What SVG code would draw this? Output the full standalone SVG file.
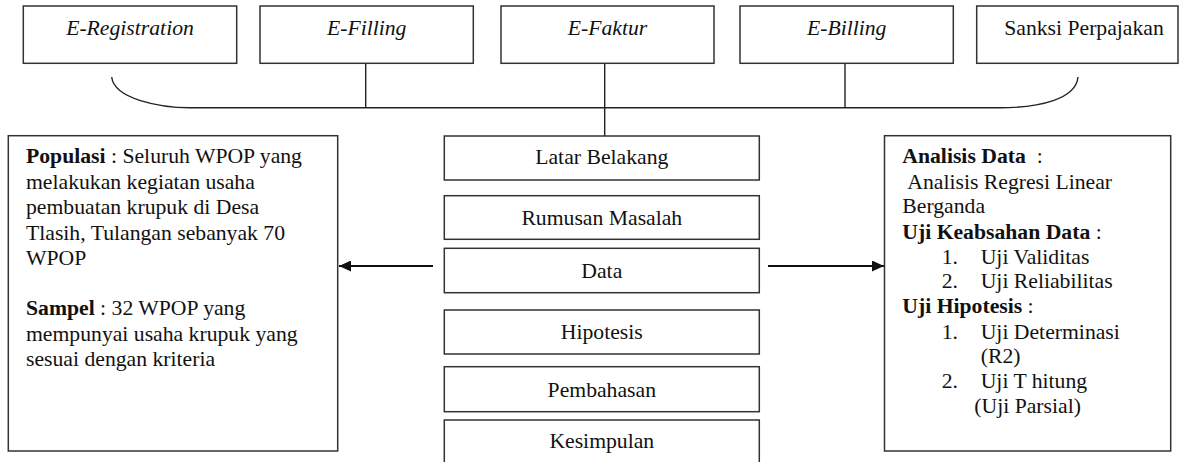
<svg xmlns="http://www.w3.org/2000/svg" width="1181" height="462" viewBox="0 0 1181 462">
<style>
.box{fill:#fff;stroke:#333;stroke-width:1.5}
.ln{fill:none;stroke:#222;stroke-width:1.4}
.ar{fill:none;stroke:#111;stroke-width:1.8}
text{font-family:"Liberation Serif","Times New Roman",serif;font-size:21.7px;fill:#111}
.c{text-anchor:middle}
.i{font-style:italic}
.b{font-weight:bold}
</style>
<defs>
<marker id="ah" viewBox="0 0 12 11" refX="12" refY="5.5" markerWidth="12" markerHeight="11" markerUnits="userSpaceOnUse" orient="auto">
<path d="M0,0 L12,5.5 L0,11 z" fill="#111"/>
</marker>
</defs>
<rect width="1181" height="462" fill="#fff"/>
<g id="connectors">
<path class="ln" d="M111.7,77 C114,99 160,107.7 190,107.7 L1000,107.7 C1040,107.7 1076,99 1078,77"/>
<line class="ln" x1="365.7" y1="63.3" x2="365.7" y2="107.7"/>
<line class="ln" x1="845" y1="63.3" x2="845" y2="107.7"/>
<line class="ln" x1="604.7" y1="63.3" x2="604.7" y2="136"/>
<line class="ar" x1="433" y1="266" x2="339" y2="266" marker-end="url(#ah)"/>
<line class="ar" x1="768" y1="266" x2="884" y2="266" marker-end="url(#ah)"/>
</g>
<g id="e-registration"><rect class="box" x="23.3" y="6" width="213.4" height="57.3"/><text class="c i" x="130" y="35">E-Registration</text></g>
<g id="e-filling"><rect class="box" x="260" y="6" width="213.3" height="57.3"/><text class="c i" x="366.7" y="35">E-Filling</text></g>
<g id="e-faktur"><rect class="box" x="501" y="6" width="213" height="57.3"/><text class="c i" x="607.5" y="35">E-Faktur</text></g>
<g id="e-billing"><rect class="box" x="740" y="6" width="213.3" height="57.3"/><text class="c i" x="846.7" y="35">E-Billing</text></g>
<g id="sanksi"><rect class="box" x="976.7" y="6" width="201.3" height="57.3"/><text class="c" x="1084" y="35">Sanksi Perpajakan</text></g>
<g id="latar"><rect class="box" x="444.3" y="136" width="315" height="44"/><text class="c" x="601.8" y="164.3">Latar Belakang</text></g>
<g id="rumusan"><rect class="box" x="444.3" y="195.7" width="315" height="43.6"/><text class="c" x="601.8" y="225">Rumusan Masalah</text></g>
<g id="data"><rect class="box" x="444.3" y="248.3" width="315" height="44.4"/><text class="c" x="601.8" y="277.7">Data</text></g>
<g id="hipotesis"><rect class="box" x="444.3" y="310" width="315" height="44"/><text class="c" x="601.8" y="339.3">Hipotesis</text></g>
<g id="pembahasan"><rect class="box" x="444.3" y="366.7" width="315" height="45"/><text class="c" x="601.8" y="396.7">Pembahasan</text></g>
<g id="kesimpulan"><rect class="box" x="444.3" y="420" width="315" height="60"/><text class="c" x="601.8" y="448.3">Kesimpulan</text></g>
<g id="populasi">
<rect class="box" x="8.3" y="135.7" width="329.4" height="315.3"/>
<text x="26" y="163"><tspan class="b">Populasi</tspan> : Seluruh WPOP yang</text>
<text x="26" y="188.5">melakukan kegiatan usaha</text>
<text x="26" y="214">pembuatan krupuk di Desa</text>
<text x="26" y="239.5">Tlasih, Tulangan sebanyak 70</text>
<text x="26" y="265">WPOP</text>
<text x="26" y="315"><tspan class="b">Sampel</tspan> : 32 WPOP yang</text>
<text x="26" y="340.5">mempunyai usaha krupuk yang</text>
<text x="26" y="366">sesuai dengan kriteria</text>
</g>
<g id="analisis">
<rect class="box" x="884.5" y="135.7" width="286.2" height="315.3"/>
<text x="902.3" y="163.3" xml:space="preserve"><tspan class="b">Analisis Data</tspan>  :</text>
<text x="907.3" y="189.3">Analisis Regresi Linear</text>
<text x="902.3" y="213.3">Berganda</text>
<text x="902.3" y="239.3"><tspan class="b">Uji Keabsahan Data</tspan> :</text>
<text x="941.7" y="264">1.</text><text x="980.7" y="264">Uji Validitas</text>
<text x="941.7" y="288.3">2.</text><text x="980.7" y="288.3">Uji Reliabilitas</text>
<text x="902.3" y="313.3"><tspan class="b">Uji Hipotesis</tspan> :</text>
<text x="941.7" y="339.3">1.</text><text x="980.7" y="339.3">Uji Determinasi</text>
<text x="980.7" y="363.3">(R2)</text>
<text x="941.7" y="388.3">2.</text><text x="980.7" y="388.3">Uji T hitung</text>
<text x="974.3" y="413.3">(Uji Parsial)</text>
</g>
</svg>
